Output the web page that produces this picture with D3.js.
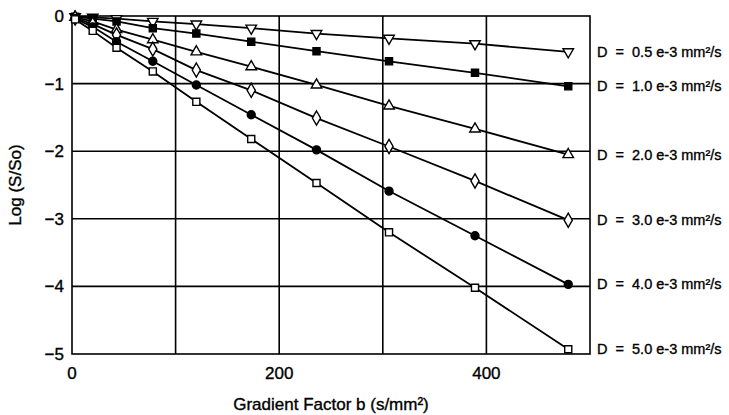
<!DOCTYPE html>
<html>
<head>
<meta charset="utf-8">
<script src="https://cdn.jsdelivr.net/npm/d3@7"></script>
<style>
  body { margin: 0; background: #fff; }
  text { font-family: "Liberation Sans", Arial, sans-serif; fill: #000; stroke: #000; stroke-width: 0.35px; }
</style>
</head>
<body>
<div id="chart"></div>
<script>
// gradient factor b (s/mm2) at each measured point
const bValues = [3, 20, 43, 78, 120, 173, 236, 306, 389, 479];

// Log (S/So) per diffusion coefficient
const d05 = [-0.01, -0.02, -0.04, -0.08, -0.12, -0.18, -0.26, -0.33, -0.41, -0.53];
const d10 = [-0.01, -0.04, -0.08, -0.18, -0.26, -0.38, -0.52, -0.67, -0.84, -1.04];
const d20 = [-0.02, -0.08, -0.20, -0.35, -0.53, -0.75, -1.02, -1.33, -1.67, -2.05];
const d30 = [-0.03, -0.12, -0.28, -0.49, -0.80, -1.10, -1.51, -1.93, -2.44, -3.02];
const d40 = [-0.04, -0.16, -0.38, -0.67, -1.02, -1.46, -1.98, -2.59, -3.25, -3.97];
const d50 = [-0.05, -0.22, -0.47, -0.82, -1.27, -1.82, -2.47, -3.20, -4.02, -4.93];

const seriesLabels = ["D  =  0.5 e-3 mm²/s", "D  =  1.0 e-3 mm²/s", "D  =  2.0 e-3 mm²/s",
                      "D  =  3.0 e-3 mm²/s", "D  =  4.0 e-3 mm²/s", "D  =  5.0 e-3 mm²/s"];
const xTicks = [0, 200, 400];
const yTicks = [0, -1, -2, -3, -4, -5];

const series = [
    { label: seriesLabels[0], values: d05, shape: d3.symbolTriangle, rotate: 180, filled: false, size: 48 },
    { label: seriesLabels[1], values: d10, shape: d3.symbolSquare, rotate: 0, filled: true, size: 50 },
    { label: seriesLabels[2], values: d20, shape: d3.symbolTriangle, rotate: 0, filled: false, size: 48 },
    { label: seriesLabels[3], values: d30, shape: d3.symbolDiamond, rotate: 0, filled: false, size: 58 },
    { label: seriesLabels[4], values: d40, shape: d3.symbolCircle, rotate: 0, filled: true, size: 50 },
    { label: seriesLabels[5], values: d50, shape: d3.symbolSquare, rotate: 0, filled: false, size: 50 }
];

const W = 729, H = 415;
const svg = d3.select("#chart").append("svg")
    .attr("width", W)
    .attr("height", H);

const x = d3.scaleLinear().domain([0, 500]).range([72, 590]);
const y = d3.scaleLinear().domain([-5, 0]).range([354, 16]);

// grid + frame
const grid = svg.append("g").attr("stroke", "#000").attr("stroke-width", 1.6);
grid.selectAll("line.v")
    .data([100, 200, 300, 400])
    .join("line")
    .attr("x1", d => x(d)).attr("x2", d => x(d))
    .attr("y1", y(0)).attr("y2", y(-5));
grid.selectAll("line.h")
    .data([-1, -2, -3, -4])
    .join("line")
    .attr("x1", x(0)).attr("x2", x(500))
    .attr("y1", d => y(d)).attr("y2", d => y(d));
grid.append("rect")
    .attr("x", x(0)).attr("y", y(0))
    .attr("width", x(500) - x(0)).attr("height", y(-5) - y(0))
    .attr("fill", "none");

// tick labels
svg.append("g").selectAll("text")
    .data(yTicks)
    .join("text")
    .attr("x", 64)
    .attr("y", d => y(d))
    .attr("dy", "0.35em")
    .attr("text-anchor", "end")
    .style("font-size", "17px")
    .text(d => d === 0 ? "0" : "\u2212" + Math.abs(d));

svg.append("g").selectAll("text")
    .data(xTicks)
    .join("text")
    .attr("x", d => x(d))
    .attr("y", 379)
    .attr("text-anchor", "middle")
    .style("font-size", "17px")
    .text(d => d);

// axis titles
svg.append("text")
    .attr("x", 331).attr("y", 410)
    .attr("text-anchor", "middle")
    .style("font-size", "17px")
    .text("Gradient Factor b (s/mm²)");

svg.append("text")
    .attr("transform", `translate(21, ${(y(0) + y(-5)) / 2}) rotate(-90)`)
    .attr("text-anchor", "middle")
    .style("font-size", "17px")
    .text("Log (S/So)");

// lines
const line = d3.line()
    .x((d, i) => x(bValues[i]))
    .y(d => y(d));

svg.append("g").selectAll("path")
    .data(series)
    .join("path")
    .attr("d", d => line(d.values))
    .attr("fill", "none")
    .attr("stroke", "#000")
    .attr("stroke-width", 1.8);

// markers
series.forEach(s => {
    svg.append("g").selectAll("path")
        .data(s.values)
        .join("path")
        .attr("d", d3.symbol().type(s.shape).size(s.size))
        .attr("transform", (d, i) => `translate(${x(bValues[i])},${y(d)}) rotate(${s.rotate})`)
        .attr("fill", s.filled ? "#000" : "#fff")
        .attr("stroke", "#000")
        .attr("stroke-width", 1.4);
});

// series labels at line ends
svg.append("g").selectAll("text")
    .data(series)
    .join("text")
    .attr("x", 597)
    .attr("y", d => y(d.values[d.values.length - 1]))
    .attr("dy", "0.35em")
    .style("font-size", "14.5px")
    .style("white-space", "pre")
    .text(d => d.label);
</script>
</body>
</html>
